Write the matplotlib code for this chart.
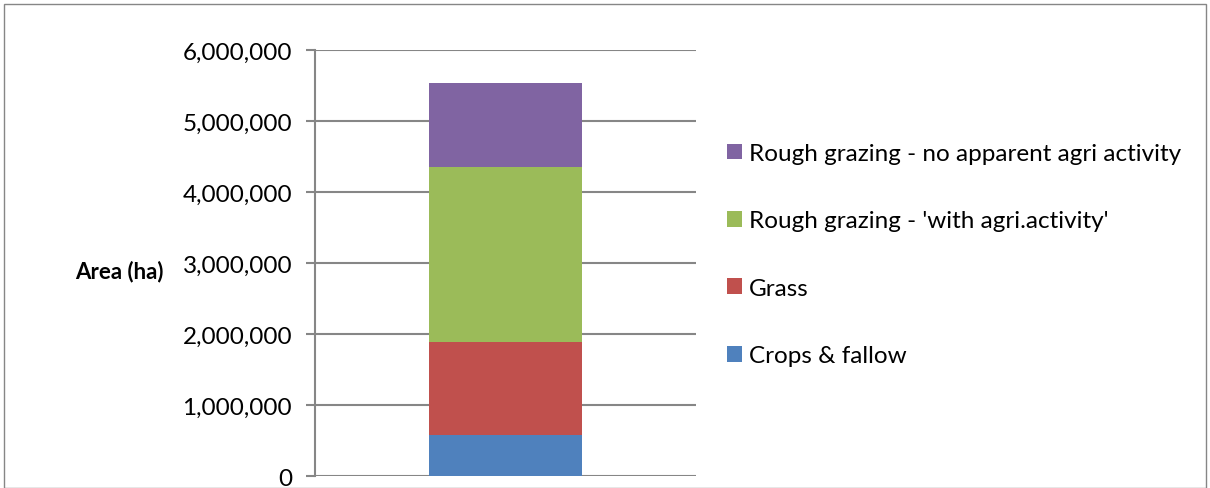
import matplotlib
matplotlib.use("Agg")
import matplotlib.pyplot as plt
from matplotlib.patches import Rectangle
from matplotlib.ticker import FuncFormatter

plt.rcParams['font.family'] = ['Lato', 'DejaVu Sans']

# Land use area (ha), stacked from bottom to top
categories = ["Total"]
series_names = [
    "Crops & fallow",
    "Grass",
    "Rough grazing - 'with agri.activity'",
    "Rough grazing - no apparent agri activity",
]
series_values = [
    [581000],
    [1309000],
    [2463000],
    [1182000],
]
series_colors = ["#4F81BD", "#C0504D", "#9BBB59", "#8064A2"]
y_ticks = [0, 1000000, 2000000, 3000000, 4000000, 5000000, 6000000]

W, H = 1210, 489
fig = plt.figure(figsize=(W / 100, H / 100), dpi=100)

# Outer chart border
fig.patches.append(Rectangle((4 / W, 0), (1206 - 4) / W, 1 - 5 / H,
                             transform=fig.transFigure, fill=False,
                             edgecolor="#868686", linewidth=1.0))

ax_left, ax_right, ax_top, ax_bot = 315, 696, 51, 477.3
ax = fig.add_axes([ax_left / W, 1 - ax_bot / H,
                   (ax_right - ax_left) / W, (ax_bot - ax_top) / H])

bottom = [0] * len(categories)
for name, vals, col in zip(series_names, series_values, series_colors):
    ax.bar(categories, vals, bottom=bottom, width=0.4, color=col, label=name, zorder=3)
    bottom = [b + v for b, v in zip(bottom, vals)]

ax.set_xlim(-0.5, 0.5)
ax.set_ylim(0, 6000000)
ax.set_yticks(y_ticks)
ax.yaxis.set_major_formatter(FuncFormatter(lambda v, p: f"{int(v):,}"))
ax.set_xticks([])
ax.grid(axis="y", color="#868686", linewidth=1.5, zorder=0)
for s in ["top", "right", "bottom"]:
    ax.spines[s].set_visible(False)
ax.spines["left"].set_color("#868686")
ax.spines["left"].set_linewidth(1.5)
ax.tick_params(axis="y", length=6.5, width=1.5, color="#868686",
               labelsize=17.5, pad=10, labelcolor="black")
ax.set_ylabel("Area (ha)", fontsize=16, fontweight="bold", rotation=0,
              ha="center", va="center", labelpad=0)
ax.yaxis.set_label_coords((119 - ax_left) / (ax_right - ax_left),
                          (ax_bot - 272) / (ax_bot - ax_top))

handles, labels = ax.get_legend_handles_labels()
fig.legend(handles[::-1], labels[::-1], loc="upper left",
           bbox_to_anchor=(727 / W, 1 - 144 / H), frameon=False,
           fontsize=17.5, handlelength=0.62, handleheight=0.62,
           handletextpad=0.3, labelspacing=1.91, borderaxespad=0,
           borderpad=0)

fig.savefig("out.png", dpi=100)
